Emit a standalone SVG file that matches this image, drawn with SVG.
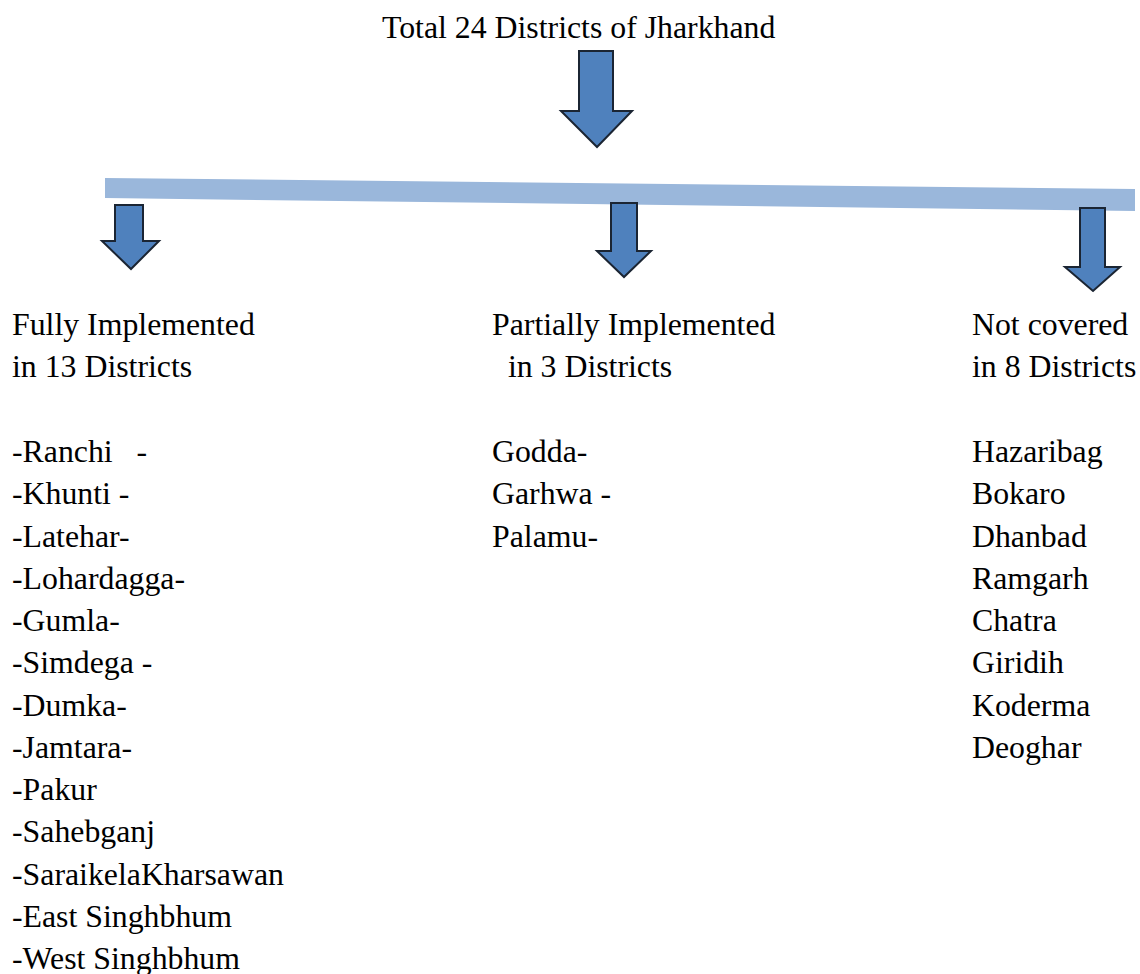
<svg xmlns="http://www.w3.org/2000/svg" width="1140" height="974" viewBox="0 0 1140 974">
<style>
text{font-family:"Liberation Serif","Times New Roman",serif;font-size:31.8px;fill:#000;white-space:pre}
.arrow{fill:#4F81BD;stroke:#1B2533;stroke-width:2;stroke-linejoin:miter}
.bar{fill:#9AB7DB}
</style>
<rect width="1140" height="974" fill="#fff"/>
<g id="title"><text x="382" y="38">Total 24 Districts of Jharkhand</text></g>
<g id="connectors">
<polygon class="arrow" points="579,51 613,51 613,111 632,111 597,147 561,111 579,111"/>
<polygon class="bar" points="105,178 1135,189 1135,211 105,198"/>
<polygon class="arrow" points="115,205 143,205 143,241 159,241 131,269 102,241 115,241"/>
<polygon class="arrow" points="611,203 637,203 637,251 651,251 624,277 597,251 611,251"/>
<polygon class="arrow" points="1080,208 1105,208 1105,267 1120,267 1093,291 1065,267 1080,267"/>
</g>
<g id="fully" xml:space="preserve">
<text x="12" y="335">Fully Implemented</text>
<text x="12" y="377">in 13 Districts</text>
<text x="12" y="462">-Ranchi   -</text>
<text x="12" y="504.25">-Khunti -</text>
<text x="12" y="546.5">-Latehar-</text>
<text x="12" y="588.75">-Lohardagga-</text>
<text x="12" y="631">-Gumla-</text>
<text x="12" y="673.25">-Simdega -</text>
<text x="12" y="715.5">-Dumka-</text>
<text x="12" y="757.75">-Jamtara-</text>
<text x="12" y="800">-Pakur</text>
<text x="12" y="842.25">-Sahebganj</text>
<text x="12" y="884.5">-SaraikelaKharsawan</text>
<text x="12" y="926.75">-East Singhbhum</text>
<text x="12" y="969">-West Singhbhum</text>
</g>
<g id="partial" xml:space="preserve">
<text x="492" y="335">Partially Implemented</text>
<text x="492" y="377">  in 3 Districts</text>
<text x="492" y="462">Godda-</text>
<text x="492" y="504.25">Garhwa -</text>
<text x="492" y="546.5">Palamu-</text>
</g>
<g id="notcovered">
<text x="972" y="335">Not covered</text>
<text x="972" y="377">in 8 Districts</text>
<text x="972" y="462">Hazaribag</text>
<text x="972" y="504.25">Bokaro</text>
<text x="972" y="546.5">Dhanbad</text>
<text x="972" y="588.75">Ramgarh</text>
<text x="972" y="631">Chatra</text>
<text x="972" y="673.25">Giridih</text>
<text x="972" y="715.5">Koderma</text>
<text x="972" y="757.75">Deoghar</text>
</g>
</svg>
